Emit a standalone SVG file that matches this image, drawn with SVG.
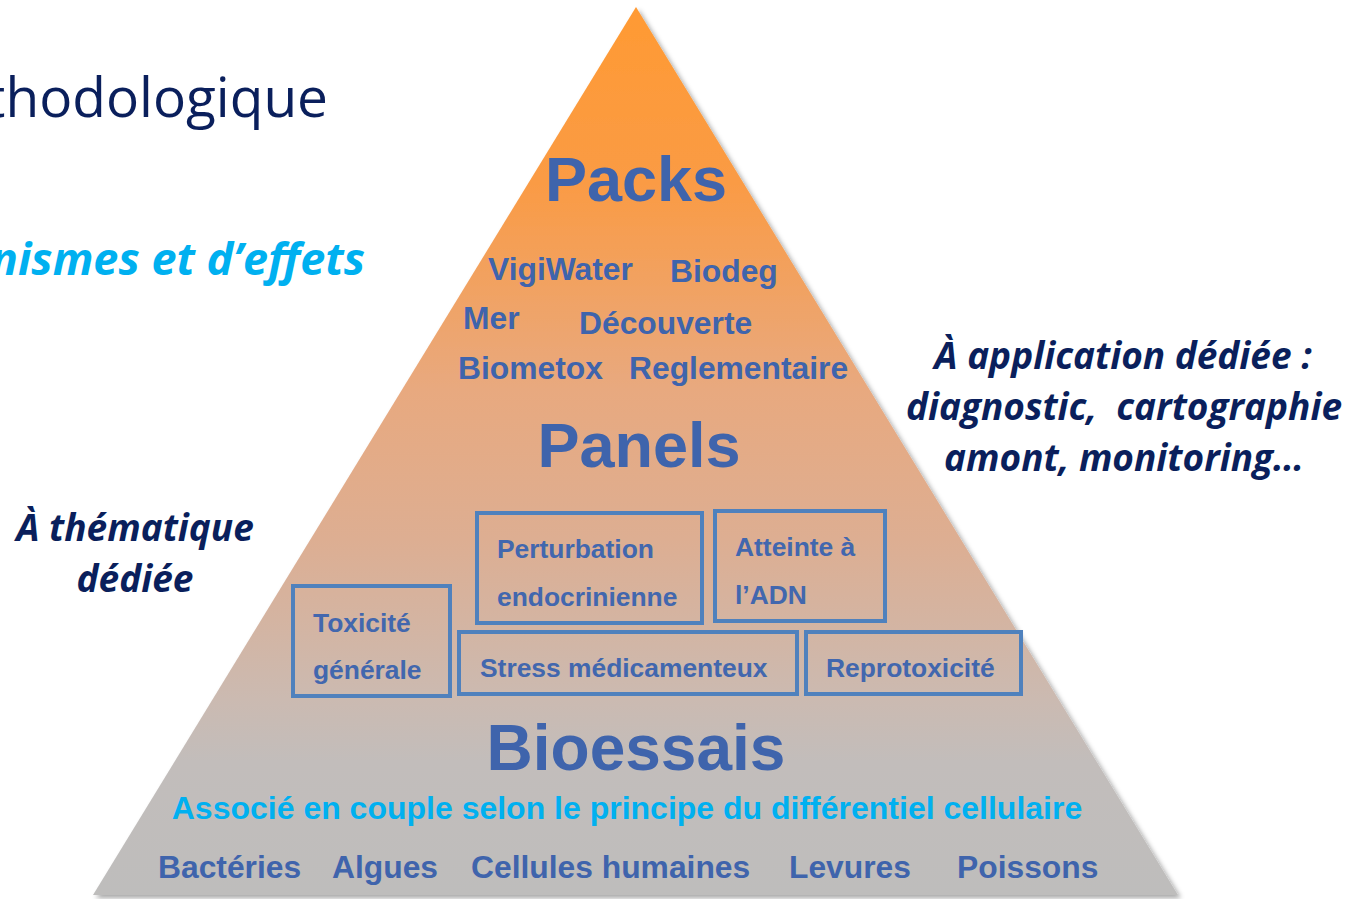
<svg xmlns="http://www.w3.org/2000/svg" width="1365" height="899" viewBox="0 0 1365 899">
  <defs>
    <linearGradient id="pyrFill" x1="0" y1="7" x2="0" y2="895" gradientUnits="userSpaceOnUse">
      <stop offset="0" stop-color="#FF9A33"/>
      <stop offset="0.2" stop-color="#FA9B45"/>
      <stop offset="0.43" stop-color="#E8A97F"/>
      <stop offset="0.6" stop-color="#DDAE92"/>
      <stop offset="0.78" stop-color="#CBBAB1"/>
      <stop offset="0.85" stop-color="#C2BDBB"/>
      <stop offset="1" stop-color="#BEBDBC"/>
    </linearGradient>
    <filter id="shadow" x="-5%" y="-5%" width="115%" height="115%">
      <feDropShadow dx="3" dy="3" stdDeviation="2.5" flood-color="#000" flood-opacity="0.35"/>
    </filter>
    <filter id="lineShadow" x="-5%" y="-200%" width="110%" height="500%">
      <feDropShadow dx="1" dy="3" stdDeviation="2" flood-color="#000" flood-opacity="0.35"/>
    </filter>
  </defs>
  <style>
    .tier { font-family: "Liberation Sans", Arial, sans-serif; font-weight: bold; fill: #3F64AC; text-anchor: middle; }
    .item { font-family: "Liberation Sans", Arial, sans-serif; font-weight: bold; fill: #3F64AC; font-size: 31.8px; }
    .box { fill: none; stroke: #4F81BD; stroke-width: 4; }
    .boxText { font-family: "Liberation Sans", Arial, sans-serif; font-weight: bold; fill: #4267AE; font-size: 26.4px; }
    .side { font-family: "Open Sans", Lato, sans-serif; font-weight: bold; font-style: italic; fill: #0A1F5C; font-size: 37px; text-anchor: middle; font-variant-ligatures: none; white-space: pre; }
    .divider { stroke: #FF6600; stroke-width: 5; }
  </style>

  <rect width="1365" height="899" fill="#FFFFFF"/>

  <!-- title fragments on the left -->
  <text x="328" y="117" font-family="'Open Sans', Lato, sans-serif" font-size="55" fill="#0A1F5C" text-anchor="end">thodologique</text>
  <text x="365" y="275" font-family="'Open Sans', Lato, sans-serif" font-size="45" font-weight="bold" font-style="italic" fill="#00B0F0" text-anchor="end">nismes et d’effets</text>

  <!-- pyramid body -->
  <g id="pyramid">
    <polygon points="636,7 1178,895 93,895" fill="url(#pyrFill)" filter="url(#shadow)"/>
  </g>

  <!-- tier dividers -->
  <g id="connectors">
    <line class="divider" x1="401" y1="392" x2="869" y2="392" filter="url(#lineShadow)"/>
    <line class="divider" x1="210" y1="702" x2="1059" y2="702" filter="url(#lineShadow)"/>
  </g>

  <!-- top tier -->
  <g id="tier-packs">
    <text class="tier" x="636" y="201" font-size="63">Packs</text>
    <text class="item" x="488" y="280">VigiWater</text>
    <text class="item" x="670" y="282">Biodeg</text>
    <text class="item" x="463" y="329">Mer</text>
    <text class="item" x="579" y="334">Découverte</text>
    <text class="item" x="458" y="379">Biometox</text>
    <text class="item" x="629" y="379">Reglementaire</text>
  </g>

  <!-- middle tier -->
  <g id="tier-panels">
    <text class="tier" x="639" y="467" font-size="63">Panels</text>
  </g>
  <g id="box-toxicite">
    <rect class="box" x="293" y="586" width="157" height="110"/>
    <text class="boxText" x="313" y="632">Toxicité</text>
    <text class="boxText" x="313" y="679">générale</text>
  </g>
  <g id="box-perturbation">
    <rect class="box" x="477" y="513" width="225" height="110"/>
    <text class="boxText" x="497" y="558">Perturbation</text>
    <text class="boxText" x="497" y="606">endocrinienne</text>
  </g>
  <g id="box-adn">
    <rect class="box" x="715" y="511" width="170" height="110"/>
    <text class="boxText" x="735" y="556">Atteinte à</text>
    <text class="boxText" x="735" y="604">l’ADN</text>
  </g>
  <g id="box-stress">
    <rect class="box" x="459" y="632" width="338" height="62"/>
    <text class="boxText" x="480" y="677">Stress médicamenteux</text>
  </g>
  <g id="box-repro">
    <rect class="box" x="806" y="632" width="215" height="62"/>
    <text class="boxText" x="826" y="677">Reprotoxicité</text>
  </g>

  <!-- base tier -->
  <g id="tier-bioessais">
    <text class="tier" x="636" y="770" font-size="64">Bioessais</text>
    <text x="627" y="819" font-family="'Liberation Sans', Arial, sans-serif" font-weight="bold" font-size="32" fill="#00B0F0" text-anchor="middle">Associé en couple selon le principe du différentiel cellulaire</text>
    <text class="item" x="158" y="878">Bactéries</text>
    <text class="item" x="332" y="878">Algues</text>
    <text class="item" x="471" y="878">Cellules humaines</text>
    <text class="item" x="789" y="878">Levures</text>
    <text class="item" x="957" y="878">Poissons</text>
  </g>

  <!-- side annotations -->
  <g id="note-thematique">
    <text class="side" x="135" y="541">À thématique</text>
    <text class="side" x="135" y="592">dédiée</text>
  </g>
  <g id="note-application">
    <text class="side" x="1123" y="369">À application dédiée :</text>
    <text class="side" x="1124" y="420">diagnostic,  cartographie</text>
    <text class="side" x="1124" y="471">amont, monitoring…</text>
  </g>
</svg>
